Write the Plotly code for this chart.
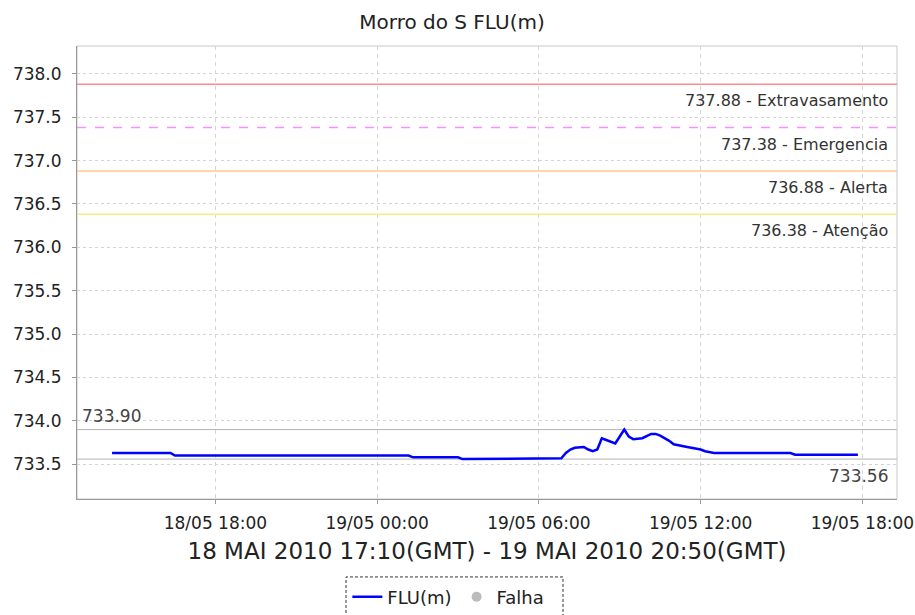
import plotly.graph_objects as go

# ---- data ----
flu_times = [
    "2010-05-18 14:10", "2010-05-18 16:20", "2010-05-18 16:30", "2010-05-19 01:10",
    "2010-05-19 01:20", "2010-05-19 03:00", "2010-05-19 03:10", "2010-05-19 06:50",
    "2010-05-19 07:00", "2010-05-19 07:10", "2010-05-19 07:20", "2010-05-19 07:40",
    "2010-05-19 07:50", "2010-05-19 08:00", "2010-05-19 08:10", "2010-05-19 08:20",
    "2010-05-19 08:30", "2010-05-19 08:50", "2010-05-19 09:00", "2010-05-19 09:10",
    "2010-05-19 09:20", "2010-05-19 09:30", "2010-05-19 09:50", "2010-05-19 10:10",
    "2010-05-19 10:20", "2010-05-19 10:30", "2010-05-19 10:50", "2010-05-19 11:00",
    "2010-05-19 11:30", "2010-05-19 11:50", "2010-05-19 12:00", "2010-05-19 12:10",
    "2010-05-19 12:30", "2010-05-19 15:20", "2010-05-19 15:30", "2010-05-19 17:50",
]
flu_values = [
    733.63, 733.63, 733.60, 733.60,
    733.58, 733.58, 733.56, 733.57,
    733.63, 733.67, 733.69, 733.70,
    733.67, 733.65, 733.67, 733.80,
    733.78, 733.74, 733.82, 733.90,
    733.82, 733.79, 733.80, 733.85,
    733.85, 733.83, 733.77, 733.73,
    733.70, 733.68, 733.67, 733.65,
    733.63, 733.63, 733.61, 733.61,
]
falha_times = [None]
falha_values = [None]

threshold_values = [737.88, 737.38, 736.88, 736.38]
threshold_names = ["Extravasamento", "Emergencia", "Alerta", "Atenção"]
threshold_colors = ["#FF8C8C", "#FF8CFF", "#FFC890", "#F4F080"]
threshold_dash = ["solid", "dash", "solid", "solid"]

max_value = 733.90
min_value = 733.56

title_text = "Morro do S FLU(m)"
xaxis_title = "18 MAI 2010 17:10(GMT) - 19 MAI 2010 20:50(GMT)"
x_range = ["2010-05-18 12:52", "2010-05-19 19:17"]
y_range = [733.10, 738.32]

FONT = "DejaVu Sans"

fig = go.Figure()

fig.add_trace(go.Scatter(
    x=flu_times, y=flu_values, mode="lines", name="FLU(m)",
    line=dict(color="#0000FF", width=2.5),
))
fig.add_trace(go.Scatter(
    x=falha_times, y=falha_values, mode="markers", name="Falha",
    marker=dict(color="#BBBBBB", size=10),
))

# threshold lines and labels
for v, n, c, d in zip(threshold_values, threshold_names, threshold_colors, threshold_dash):
    fig.add_shape(type="line", xref="paper", x0=0, x1=1, yref="y", y0=v, y1=v,
                  line=dict(color=c, width=1.5, dash=d), layer="above")
    fig.add_annotation(xref="paper", x=1, xanchor="right", xshift=-7,
                       yref="y", y=v, yanchor="middle", yshift=-16.5,
                       text=f"{v:.2f} - {n}", showarrow=False,
                       font=dict(family=FONT, size=16, color="#333333"))

# max/min lines
for v in (max_value, min_value):
    fig.add_shape(type="line", xref="paper", x0=0, x1=1, yref="y", y0=v, y1=v,
                  line=dict(color="#B4B4B4", width=1), layer="below")
fig.add_annotation(xref="paper", x=0, xanchor="left", xshift=3,
                   yref="y", y=max_value, yanchor="middle", yshift=14,
                   text=f"{max_value:.2f}", showarrow=False,
                   font=dict(family=FONT, size=17, color="#444444"))
fig.add_annotation(xref="paper", x=1, xanchor="right", xshift=-7,
                   yref="y", y=min_value, yanchor="middle", yshift=-17,
                   text=f"{min_value:.2f}", showarrow=False,
                   font=dict(family=FONT, size=17, color="#444444"))

# plot border (light)
fig.add_shape(type="rect", xref="paper", yref="paper", x0=0, x1=1, y0=0, y1=1,
              line=dict(color="#C8C8C8", width=1), layer="below")

# dashed legend box
fig.add_shape(type="rect", xref="paper", yref="paper",
              x0=(346 - 77) / 820, x1=(563 - 77) / 820,
              y0=(499 - 640) / 453.3, y1=(499 - 577) / 453.3,
              line=dict(color="#333333", width=1, dash="3px,2px"))

fig.update_layout(
    width=915, height=615,
    margin=dict(l=77, r=18, t=46, b=116, autoexpand=False),
    paper_bgcolor="white", plot_bgcolor="white",
    font=dict(family=FONT, color="#222222"),
    title=dict(text=title_text, x=0.494, xref="container", xanchor="center",
               y=1 - 22 / 615, yref="container", yanchor="middle",
               font=dict(family=FONT, size=20, color="#222222")),
    showlegend=True,
    legend=dict(orientation="h", xref="container", yref="container",
                x=0.49, xanchor="center", y=1 - 597 / 615, yanchor="middle",
                font=dict(family=FONT, size=18, color="#222222"),
                bgcolor="rgba(0,0,0,0)", borderwidth=0,
                itemwidth=30, tracegroupgap=0),
    xaxis=dict(
        type="date", range=x_range, automargin=False,
        tick0="2010-05-18 18:00", dtick=6 * 3600 * 1000,
        tickformat="%d/%m %H:%M",
        showgrid=True, gridcolor="#D4D4D4", griddash="4px,4px", gridwidth=1,
        showline=True, linecolor="#999999", linewidth=1,
        ticks="outside", ticklen=4, tickcolor="#999999",
        ticklabelstandoff=5,
        tickfont=dict(family=FONT, size=17, color="#222222"),
        title=dict(text=xaxis_title, standoff=10,
                   font=dict(family=FONT, size=23, color="#222222")),
        zeroline=False,
    ),
    yaxis=dict(
        range=y_range, tick0=733.5, dtick=0.5, tickformat=".1f", automargin=False,
        showgrid=True, gridcolor="#D4D4D4", griddash="3px,3px", gridwidth=1,
        showline=True, linecolor="#999999", linewidth=1,
        ticks="outside", ticklen=4, tickcolor="#999999",
        ticklabelstandoff=7,
        tickfont=dict(family=FONT, size=17, color="#222222"),
        zeroline=False,
    ),
)

fig.write_html("out.html", config={"displayModeBar": False},
               post_script="document.body.style.margin='0';document.body.style.overflow='hidden';")
